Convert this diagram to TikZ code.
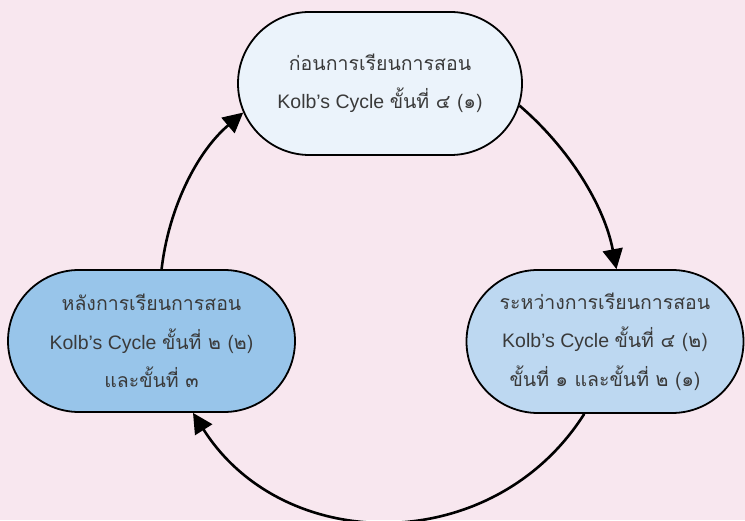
\documentclass[tikz,border=0pt]{standalone}
\usepackage{fontspec}
\setmainfont{Liberation Sans}
\newfontfamily\thaifont[Script=Thai]{Loma}
\usetikzlibrary{shapes.misc,arrows.meta}
\definecolor{bgpink}{HTML}{F8E7EF}
\definecolor{paleblue}{HTML}{EBF3FB}
\definecolor{midblue}{HTML}{98C5EA}
\definecolor{lightblue}{HTML}{BDD8F1}
\definecolor{textgray}{HTML}{3A3A3A}
\newcommand{\thaitext}[1]{{\thaifont #1}}
\begin{document}
\begin{tikzpicture}[x=1pt,y=1pt,
  stage/.style={rounded rectangle, draw=black, line width=1.8pt, align=center,
    text=textgray, font=\fontsize{19.5}{38.5}\selectfont, inner sep=0pt},
  cyc/.style={line width=2.6pt, -{Triangle[length=20pt,width=20pt]}}]
\fill[bgpink] (0,0) rectangle (745,520);
\useasboundingbox (0,0) rectangle (745,520);

% the three stages of the cycle
\node[stage, fill=paleblue, minimum width=284pt, minimum height=143pt] (before) at (380,436.5)
  {\thaitext{ก่อนการเรียนการสอน}\\Kolb’s Cycle \thaitext{ขั้นที่ ๔ (๑)}};
\node[stage, fill=lightblue, minimum width=277pt, minimum height=143pt] (during) at (605,178.5)
  {\thaitext{ระหว่างการเรียนการสอน}\\Kolb’s Cycle \thaitext{ขั้นที่ ๔ (๒)}\\\thaitext{ขั้นที่ ๑ และขั้นที่ ๒ (๑)}};
\node[stage, fill=midblue, minimum width=287pt, minimum height=142pt] (after) at (151.5,179)
  {\thaitext{หลังการเรียนการสอน}\\Kolb’s Cycle \thaitext{ขั้นที่ ๒ (๒)}\\\thaitext{และขั้นที่ ๓}};

% clockwise arcs between the stages
\draw[cyc] (before.-9) to[out=-40.6, in=100.8, looseness=0.876] (during.81);
\draw[cyc] (during.254) to[out=237.6, in=-57.6, looseness=1.108] (after.-60);
\draw[cyc] (after.82) to[out=83.4, in=220.3, looseness=0.883] (before.192);
\end{tikzpicture}
\end{document}
